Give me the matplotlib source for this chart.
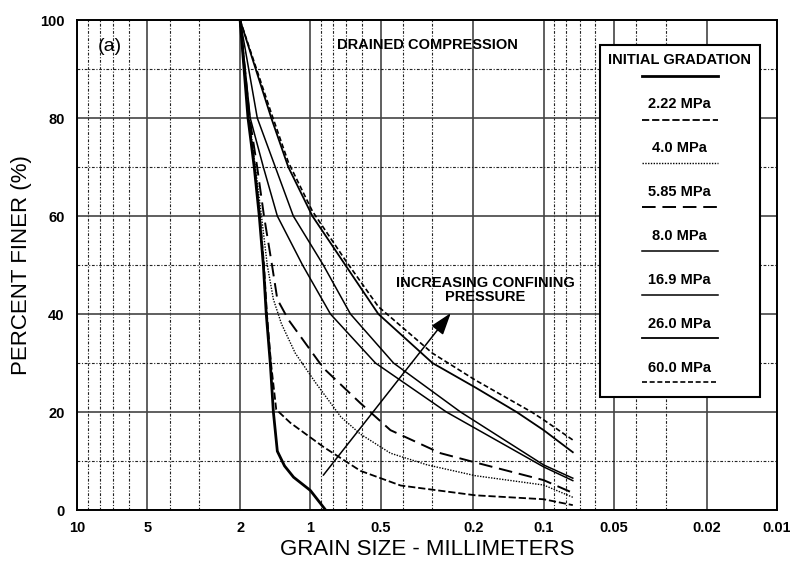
import matplotlib.pyplot as plt
from matplotlib.patches import Rectangle
from matplotlib.lines import Line2D
from matplotlib.ticker import FixedLocator, NullFormatter

plt.rcParams['font.family'] = ['Liberation Sans', 'DejaVu Sans']

# axis ticks / grid
x_ticks = [10, 5, 2, 1, 0.5, 0.2, 0.1, 0.05, 0.02, 0.01]
x_tick_labels = ["10", "5", "2", "1", "0.5", "0.2", "0.1", "0.05", "0.02", "0.01"]
x_minor = [9, 8, 7, 6, 4, 3, 0.9, 0.8, 0.7, 0.6, 0.4, 0.3,
           0.09, 0.08, 0.07, 0.06, 0.04, 0.03]
y_ticks = [0, 20, 40, 60, 80, 100]
y_minor = [10, 30, 50, 70, 90]

# grain size curves (size in mm, percent finer)
initial_size = [2.0, 1.85, 1.74, 1.655, 1.59, 1.545, 1.485, 1.44, 1.385, 1.29, 1.18, 1.0, 0.86]
initial_pct = [100, 80, 70, 60, 50, 40, 30, 20, 12, 9, 6.7, 4, 0]

p222_size = [2.0, 1.84, 1.73, 1.645, 1.58, 1.535, 1.475, 1.40, 1.218, 0.88, 0.61, 0.41, 0.196, 0.1, 0.075]
p222_pct = [100, 80, 70, 60, 50, 40, 30, 20.5, 17.8, 12.9, 8, 5, 3, 2.2, 1]

p40_size = [2.0, 1.83, 1.72, 1.62, 1.53, 1.44, 1.33, 1.16, 0.95, 0.74, 0.61, 0.4536, 0.315, 0.196, 0.1, 0.075]
p40_pct = [100, 80, 70, 60, 50, 43, 38, 32, 26, 19, 15.5, 11.6, 9.2, 7, 5.1, 2.6]

p585_size = [2.0, 1.82, 1.69, 1.58, 1.46, 1.385, 1.24, 0.88, 0.61, 0.4536, 0.2767, 0.196, 0.1, 0.075]
p585_pct = [100, 80, 70, 60, 50, 43, 38.8, 29, 21.8, 16.3, 11.6, 9.7, 6.1, 3.5]

p80_size = [2.0, 1.81, 1.59, 1.385, 1.08, 0.82, 0.526, 0.261, 0.1, 0.075]
p80_pct = [100, 80, 70, 60, 50, 40, 30, 20, 8.8, 6.0]

p169_size = [2.0, 1.688, 1.413, 1.183, 0.88, 0.673, 0.44, 0.227, 0.1, 0.075]
p169_pct = [100, 80, 70, 60, 50, 40, 30, 20, 9.2, 6.5]

p260_size = [2.0, 1.47, 1.243, 0.98, 0.708, 0.511, 0.2995, 0.196, 0.1306, 0.1, 0.075]
p260_pct = [100, 80, 70, 60, 50, 40, 30, 25, 20, 16.3, 11.8]

p600_size = [2.0, 1.47, 1.243, 0.98, 0.708, 0.511, 0.2995, 0.196, 0.1126, 0.1, 0.075]
p600_pct = [100, 81, 71, 61, 51, 41.5, 32, 26.5, 20, 18.4, 14.3]

labels = ["INITIAL GRADATION", "2.22 MPa", "4.0 MPa", "5.85 MPa",
          "8.0 MPa", "16.9 MPa", "26.0 MPa", "60.0 MPa"]
sizes = [initial_size, p222_size, p40_size, p585_size, p80_size, p169_size, p260_size, p600_size]
pcts = [initial_pct, p222_pct, p40_pct, p585_pct, p80_pct, p169_pct, p260_pct, p600_pct]
styles = ['-', (0, (4, 1.6)), (0, (1, 1)), (0, (7, 3.5)), '-', '-', '-', (0, (3, 1.6))]
widths = [2.0, 1.3, 1.0, 1.4, 1.1, 1.1, 1.3, 1.2]

fig = plt.figure(figsize=(7.9, 5.63), dpi=100)
ax = fig.add_axes([0.0975, 0.0941, 0.886, 0.8703])

ax.set_xscale('log')
ax.set_xlim(10, 0.01)
ax.set_ylim(0, 100)

ax.xaxis.set_major_locator(FixedLocator(x_ticks))
ax.xaxis.set_minor_locator(FixedLocator(x_minor))
ax.xaxis.set_minor_formatter(NullFormatter())
ax.set_xticks(x_ticks)
ax.set_xticklabels(x_tick_labels)
ax.set_yticks(y_ticks)
ax.yaxis.set_minor_locator(FixedLocator(y_minor))

ax.grid(which='major', color='#444444', lw=1.2, ls='-', zorder=0)
ax.grid(which='minor', color='#222222', lw=0.8, ls=(0, (2.5, 1.5, 1, 1.5)), zorder=0)
ax.set_axisbelow(True)

ax.tick_params(which='both', length=0)
ax.tick_params(axis='x', pad=8, labelsize=10.5)
ax.tick_params(axis='y', pad=9, labelsize=10.5)
for lab in ax.get_xticklabels() + ax.get_yticklabels():
    lab.set_fontweight('bold')

for sp in ax.spines.values():
    sp.set_linewidth(1.4)

for s, p, ls, lw in zip(sizes, pcts, styles, widths):
    ax.plot(s, p, color='black', ls=ls, lw=lw, zorder=3)

ax.set_xlabel("GRAIN SIZE - MILLIMETERS", fontsize=16, labelpad=3)
ax.set_ylabel("PERCENT FINER (%)", fontsize=16, labelpad=6)

ax.text(0.047, 0.945, "(a)", transform=ax.transAxes, fontsize=14,
        ha='center', va='center')
ax.text(0.501, 0.949, "DRAINED COMPRESSION", transform=ax.transAxes,
        fontsize=10.5, fontweight='bold', ha='center', va='center')
ax.text(0.583, 0.449, "INCREASING CONFINING\nPRESSURE", transform=ax.transAxes,
        fontsize=10.5, fontweight='bold', ha='center', va='center', linespacing=0.95)

ax.annotate('', xy=(0.25, 40.2), xytext=(0.88, 7.1),
            arrowprops=dict(arrowstyle='-|>,head_length=0.9,head_width=0.3',
                            color='black', lw=1.1, mutation_scale=15,
                            shrinkA=0, shrinkB=0), zorder=4)

# legend box
ax.add_patch(Rectangle((0.747, 0.2306), 0.229, 0.718, transform=ax.transAxes,
                       facecolor='white', edgecolor='black', lw=1.5, zorder=5))
for i, (lab, ls, lw) in enumerate(zip(labels, styles, widths)):
    ty = (510 - (60 + i * 44)) / 490
    ly = (510 - (76 + i * 43.7)) / 490
    ax.text(0.861, ty, lab, transform=ax.transAxes, fontsize=10.5,
            fontweight='bold', ha='center', va='center', zorder=6)
    ax.add_line(Line2D([0.807, 0.916], [ly, ly], transform=ax.transAxes,
                       color='black', ls=ls, lw=lw, zorder=6))

fig.savefig("out.png", dpi=100)
